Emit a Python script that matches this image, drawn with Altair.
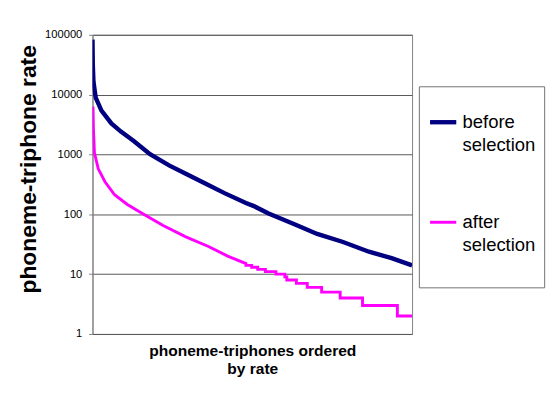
import altair as alt
import pandas as pd

# ---- data ----
before_rank = [0, 1, 3, 10, 28, 59, 89, 130, 180, 241, 292, 353, 413, 480, 505, 551, 632, 703, 784, 865, 936, 1000]
before_rate = [83000, 31400, 16600, 8900, 5420, 3300, 2410, 1660, 1010, 650, 477, 328, 226, 154, 137, 103, 68, 47, 34.5, 23.7, 18.5, 14]

after_rank = [1.5, 3, 6, 18, 39, 69, 109, 160, 221, 292, 363, 423, 480]
after_rate = [6300, 2570, 1070, 575, 350, 212, 146, 100, 65, 42, 29, 20, 15]
# integer plateaus at the tail of the "after" curve
step_start = [480, 498, 517, 541, 574, 602, 608, 638, 672, 717, 775, 845, 954]
step_level = [14, 13, 12, 11, 10, 9, 8, 7, 6, 5, 4, 3, 2]
rank_end = 1000

series_names = ["before selection", "after selection"]
series_colors = ["#000080", "#FF00FF"]
y_ticks = [1, 10, 100, 1000, 10000, 100000]

rows = []
for i, (r, v) in enumerate(zip(before_rank, before_rate)):
    rows.append({"rank": r, "rate": v, "series": series_names[0], "order": i})
k = 0
for r, v in zip(after_rank, after_rate):
    rows.append({"rank": r, "rate": v, "series": series_names[1], "order": k})
    k += 1
ends = step_start[1:] + [rank_end]
for s, e, lv in zip(step_start, ends, step_level):
    rows.append({"rank": s, "rate": lv, "series": series_names[1], "order": k}); k += 1
    rows.append({"rank": e, "rate": lv, "series": series_names[1], "order": k}); k += 1
df = pd.DataFrame(rows)

FONT = "Liberation Sans"

chart = alt.Chart(df).mark_line(clip=True).encode(
    x=alt.X("rank:Q", scale=alt.Scale(domain=[0, rank_end], nice=False, zero=True),
            axis=alt.Axis(labels=False, ticks=False, grid=False, domain=False,
                          title=["phoneme-triphones ordered", "by rate"],
                          titleFont=FONT, titleFontSize=16, titleFontWeight="bold",
                          titleColor="black", titlePadding=9, titleLineHeight=19)),
    y=alt.Y("rate:Q", scale=alt.Scale(type="log", domain=[1, 100000], nice=False),
            axis=alt.Axis(values=y_ticks, format="d", grid=True, gridColor="#555555",
                          gridWidth=1, domainColor="#808080", tickColor="#808080",
                          tickSize=4, labelPadding=7, labelFont=FONT, labelFontSize=11.5,
                          labelColor="black", title="phoneme-triphone rate",
                          titleFont=FONT, titleFontSize=23.5, titleFontWeight="bold",
                          titleColor="black", titlePadding=4, titleY=138)),
    color=alt.Color("series:N", scale=alt.Scale(domain=series_names, range=series_colors),
                    legend=alt.Legend(title=" ", titleFontSize=8, titlePadding=4,
                                      orient="none", legendX=336, legendY=53,
                                      symbolType="stroke", symbolSize=729,
                                      symbolStrokeWidth=3, labelFont=FONT,
                                      labelFontSize=19, labelColor="black",
                                      labelOffset=4, padding=9, rowPadding=54,
                                      strokeColor="#707070", fillColor="white",
                                      labelExpr="datum.label == 'before selection' ? ['before', 'selection'] : ['after', 'selection', '']")),
    strokeWidth=alt.StrokeWidth("series:N", scale=alt.Scale(domain=series_names, range=[4.5, 3]),
                                legend=None),
    order="order:Q",
).properties(
    width=329, height=308,
    padding={"left": 9, "top": 16, "right": 5, "bottom": 5},
).configure(
    view=alt.ViewConfig(stroke="#808080", strokeWidth=1),
    style={"guide-label": {"lineHeight": 24}},
)

chart.save("out.html", embed_options={"renderer": "svg", "actions": False})
